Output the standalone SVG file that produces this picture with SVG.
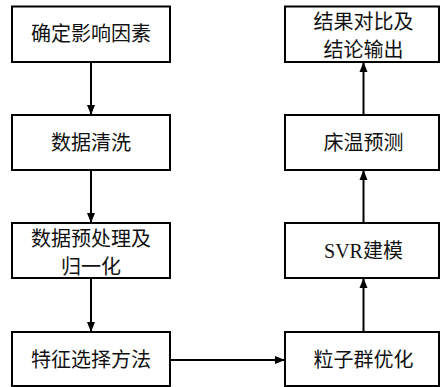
<svg xmlns="http://www.w3.org/2000/svg" width="440" height="387" viewBox="0 0 440 387">
<style>
.box{fill:#fff;stroke:#000;stroke-width:2}
.t{font-family:"Liberation Serif","Noto Sans CJK SC",serif;font-size:20px;fill:#111;text-anchor:middle;dominant-baseline:central}
.c{stroke:#000;stroke-width:2;fill:none;marker-end:url(#ah)}
</style>
<defs>
<marker id="ah" viewBox="0 0 10 10" refX="10" refY="5" markerWidth="10" markerHeight="10" markerUnits="userSpaceOnUse" orient="auto">
<path d="M0,1 L10,5 L0,9 Z" fill="#000"/>
</marker>
</defs>
<rect width="440" height="387" fill="#fff"/>
<g id="connectors">
<line class="c" x1="91" y1="62" x2="91" y2="115"/>
<line class="c" x1="91" y1="170" x2="91" y2="223"/>
<line class="c" x1="91" y1="278" x2="91" y2="332"/>
<line class="c" x1="170" y1="360" x2="285" y2="360"/>
<line class="c" x1="363.5" y1="332" x2="363.5" y2="278"/>
<line class="c" x1="363.5" y1="223" x2="363.5" y2="170"/>
<line class="c" x1="363.5" y1="115" x2="363.5" y2="62"/>
</g>
<g id="n1"><rect class="box" x="12" y="6.5" width="158" height="55.5"/><text class="t" x="91" y="34">确定影响因素</text></g>
<g id="n2"><rect class="box" x="12" y="115" width="158" height="55"/><text class="t" x="91" y="143">数据清洗</text></g>
<g id="n3"><rect class="box" x="12" y="223" width="158" height="55"/><text class="t" x="91" y="238.5">数据预处理及</text><text class="t" x="91" y="266.5">归一化</text></g>
<g id="n4"><rect class="box" x="12" y="332" width="158" height="54"/><text class="t" x="91" y="360">特征选择方法</text></g>
<g id="n5"><rect class="box" x="285" y="332" width="154" height="54"/><text class="t" x="363.5" y="360">粒子群优化</text></g>
<g id="n6"><rect class="box" x="285" y="223" width="154" height="55"/><text class="t" x="363.5" y="251">SVR建模</text></g>
<g id="n7"><rect class="box" x="285" y="115" width="154" height="55"/><text class="t" x="363.5" y="143">床温预测</text></g>
<g id="n8"><rect class="box" x="285" y="6.5" width="154" height="55.5"/><text class="t" x="363.5" y="21.5">结果对比及</text><text class="t" x="363.5" y="49.5">结论输出</text></g>
</svg>
